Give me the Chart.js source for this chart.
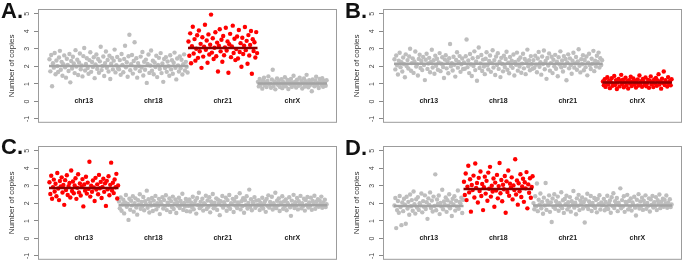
<!DOCTYPE html>
<html>
<head>
<meta charset="utf-8">
<script src="https://cdn.jsdelivr.net/npm/chart.js@4.4.0/dist/chart.umd.min.js"></script>
<style>
body { margin: 0; width: 685px; height: 266px; background: #fff; position: relative; overflow: hidden; font-family: "Liberation Sans", Arial, sans-serif; }
.panel { position: absolute; width: 342px; height: 131px; }
.tag { position: absolute; font-weight: bold; font-size: 22px; color: #111; line-height: 1; }
</style>
</head>
<body>
<div class="panel" style="left:0;top:0"><canvas id="chartA" width="342" height="131"></canvas></div>
<div class="panel" style="left:345px;top:0"><canvas id="chartB" width="342" height="131"></canvas></div>
<div class="panel" style="left:0;top:137px"><canvas id="chartC" width="342" height="131"></canvas></div>
<div class="panel" style="left:345px;top:137px"><canvas id="chartD" width="342" height="131"></canvas></div>
<div class="tag" style="left:1px;top:0">A.</div>
<div class="tag" style="left:345px;top:0">B.</div>
<div class="tag" style="left:1px;top:136px">C.</div>
<div class="tag" style="left:345px;top:137px">D.</div>
<script>
const chromosomes = ['chr13', 'chr18', 'chr21', 'chrX'];
const yTicks = [-1, 0, 1, 2, 3, 4, 5];

// panel A - trisomy 21
const a13 = [2.41,1.72,2.65,0.87,2.18,1.93,2.77,1.55,2.34,2.02,1.68,2.51,2.89,1.81,2.26,1.47,2.12,2.63,1.95,1.36,2.44,2.08,1.74,2.71,1.09,2.31,1.88,2.55,2.17,1.62,2.93,1.99,2.38,1.51,2.22,2.74,1.84,2.05,1.43,2.59,3.05,1.77,2.14,2.47,1.91,1.58,2.36,2.81,1.69,2.25,1.97,2.52,1.33,2.11,2.68,1.86,2.42,1.64,2.29,3.12,1.79,2.03,2.57,1.45,2.19,2.85,1.92,2.37,1.71,2.61,1.28,2.15,2.49,1.83,2.33,2.96,1.66,2.07,2.54,1.89];
const a18 = [1.84,2.36,1.52,2.71,2.09,1.67,2.43,3.18,1.95,2.24,1.41,2.58,3.81,1.78,2.12,2.65,1.59,2.31,3.38,1.88,2.47,1.36,2.19,2.02,1.73,2.56,1.94,2.82,1.48,2.27,1.81,2.39,1.06,2.14,2.68,1.63,2.05,2.91,1.75,2.33,1.55,2.22,1.97,2.61,1.39,2.08,2.49,1.86,2.76,1.62,2.17,1.12,2.42,1.91,2.53,1.69,2.28,2.01,1.47,2.64,1.83,2.35,1.58,2.21,2.79,1.92,1.26,2.45,2.06,1.71,2.57,1.89,2.38,1.54,2.13,2.69,1.77,2.26,1.98,1.65];
const a21 = [3.42,2.61,3.89,2.18,3.15,4.27,2.74,3.56,2.33,3.01,3.78,2.49,4.05,2.87,3.29,1.92,3.67,2.56,3.12,4.38,2.95,3.48,2.21,3.83,2.68,3.24,4.96,2.79,3.61,2.42,3.07,3.95,2.58,3.36,1.71,3.18,4.12,2.86,3.52,2.27,3.74,2.64,3.09,4.21,2.91,3.43,1.64,3.27,3.86,2.53,3.14,4.33,2.77,3.58,2.36,2.99,3.71,2.45,4.08,2.82,3.33,1.98,3.64,2.71,3.19,4.25,2.93,3.46,2.15,3.79,2.62,3.23,4.02,1.58,3.55,2.88,3.38,2.51,3.96,2.76];
const aX = [1.12,0.86,1.28,0.94,1.05,0.73,1.21,1.36,0.91,1.09,0.82,1.17,1.43,0.97,1.02,0.78,1.25,1.81,0.88,1.14,0.69,1.07,1.32,0.95,1.19,0.84,1.01,1.27,0.76,1.11,0.93,1.38,0.87,1.04,1.23,0.71,1.16,0.98,1.29,0.83,1.08,1.47,0.92,1.13,0.79,1.24,1.03,0.89,1.35,0.96,1.18,0.74,1.06,1.31,0.85,1.15,1.52,0.99,0.81,1.22,0.94,1.09,0.58,1.26,1.01,0.87,1.19,1.41,0.92,1.05,0.77,1.28,1.12,0.95,1.33,0.84,1.17,1.02,0.9,1.21];
const aRed = [false, false, true, false];
const aMeans = [[0, 1, 2.02], [2, 2, 3.05], [3, 3, 1.02]];

// panel B - monosomy X
const b13 = [2.41,1.83,2.62,2.07,1.54,2.33,2.78,1.96,2.24,1.71,2.51,2.13,1.38,2.69,2.02,2.36,1.88,2.57,3.01,1.75,2.19,2.46,1.63,2.28,2.85,1.99,2.11,1.48,2.43,2.67,1.91,2.31,1.79,2.54,2.08,1.22,2.38,2.72,1.86,2.17,2.49,1.67,2.26,2.95,1.94,2.35,1.58,2.61,2.04,2.44,1.81,2.22,2.76,1.73,2.15,2.52,1.97,1.34,2.39,2.64,1.89,2.29,1.61,2.47,3.28,2.01,2.18,1.77,2.55,2.09,1.42,2.37,2.81,1.93,2.25,2.59,1.69,2.12,2.45,1.85];
const b18 = [2.23,1.87,2.58,3.54,1.96,2.34,1.62,2.71,2.11,1.45,2.47,2.02,2.86,1.79,2.29,1.18,2.53,3.08,1.91,2.17,2.65,1.74,2.39,1.99,1.56,2.44,2.81,2.06,1.83,2.31,2.62,1.69,2.19,2.92,1.94,2.36,1.51,2.57,2.08,2.75,1.86,2.27,1.39,2.49,2.14,1.72,2.61,1.97,2.42,2.84,1.81,2.21,1.61,2.54,2.03,2.33,1.92,2.68,1.48,2.25,2.09,2.79,1.76,2.38,1.99,2.51,1.64,2.16,2.72,1.89,2.43,1.56,2.28,2.96,2.01,2.35,1.78,2.59,2.12,1.87];
const b21 = [2.36,1.92,2.61,2.09,1.67,2.45,2.83,1.98,2.24,1.53,2.57,2.14,2.91,1.84,2.31,1.29,2.48,2.05,2.74,1.76,2.19,2.55,1.62,2.38,2.01,2.66,1.87,2.27,1.44,2.52,2.11,2.86,1.95,2.34,1.71,2.59,2.03,2.42,1.21,2.22,2.69,1.89,2.46,2.07,1.58,2.33,2.78,1.93,2.17,2.54,1.81,2.29,2.98,2.04,1.66,2.41,2.13,2.64,1.78,2.37,1.96,2.57,1.49,2.21,2.72,2.06,1.85,2.44,2.15,2.89,1.73,2.32,1.99,2.61,2.26,2.79,1.94,2.47,2.08,2.35];
const bX = [1.14,0.92,1.27,0.83,1.06,1.38,0.97,1.19,0.76,1.11,1.33,0.89,1.02,1.46,0.94,1.22,0.71,1.08,1.29,0.86,1.17,1.52,0.99,1.24,0.81,1.09,1.35,0.93,1.16,0.74,1.21,1.04,1.41,0.88,1.13,1.31,0.96,1.19,0.79,1.07,1.26,0.91,1.48,1.01,1.15,0.84,1.28,1.12,0.95,1.37,0.87,1.05,1.23,0.78,1.18,1.43,0.98,1.1,0.82,1.25,1.03,1.34,0.9,1.2,1.56,0.97,1.14,0.73,1.3,1.06,1.71,0.94,1.22,1.09,0.85,1.39,1.01,1.17,0.92,1.27];
const bRed = [false, false, false, true];
const bMeans = [[0, 2, 2.15], [3, 3, 1.08]];

// panel C - trisomy 13
const c13 = [3.21,2.54,3.58,2.27,2.93,3.36,2.68,3.12,2.41,3.74,2.85,2.19,3.28,2.97,3.49,2.62,3.05,1.92,3.33,2.76,3.61,2.48,2.99,3.17,2.34,3.88,2.71,3.25,2.58,3.02,3.44,2.26,2.89,3.67,2.63,3.14,2.45,2.95,3.39,1.83,3.08,2.73,3.52,2.56,3.19,2.83,4.38,2.39,3.01,2.67,3.31,2.91,2.14,3.46,2.79,3.09,2.52,3.63,2.87,3.23,2.31,2.94,3.41,2.66,3.15,1.86,3.29,2.81,3.55,2.47,3.06,4.33,2.74,3.18,2.59,3.37,2.92,3.69,2.28,3.03];
const c18 = [2.11,1.72,2.34,1.58,1.95,2.21,1.43,2.06,2.48,1.81,1.99,1.06,2.27,1.64,2.15,1.89,2.41,1.53,2.02,2.29,1.77,1.36,2.18,1.93,2.52,1.69,2.08,1.84,2.37,1.61,2.13,1.97,2.73,1.75,2.24,1.48,2.05,1.88,2.31,1.57,2.16,1.91,2.43,1.66,2.01,1.83,2.26,1.39,2.09,1.96,2.35,1.71,2.19,1.86,2.47,1.62,2.04,1.92,2.28,1.51,2.12,1.79,2.39,1.68,1.98,2.22,1.45,2.07,1.87,2.32,1.74,2.14,1.94,2.55,1.63,2.03,1.82,2.25,1.56,2.1];
const c21 = [1.86,2.23,1.54,2.06,1.79,2.38,1.67,1.97,2.15,1.42,2.31,1.91,2.61,1.73,2.09,1.84,2.27,1.59,2.02,1.95,2.44,1.68,2.17,1.81,2.35,1.49,2.11,1.93,2.54,1.72,2.04,1.87,2.29,1.63,2.21,1.98,1.33,2.13,1.89,2.42,1.76,2.07,1.92,2.33,1.58,2.19,1.83,2.48,1.69,2.01,1.96,2.26,1.51,2.14,1.88,2.37,1.74,2.05,1.94,2.58,1.66,2.12,1.85,2.3,1.47,2.18,1.9,2.41,1.71,2.03,2.79,1.8,2.24,1.61,2.08,1.97,2.36,1.75,2.16,1.88];
const cX = [1.91,2.18,1.62,2.04,1.83,2.32,1.71,1.98,2.13,1.52,2.26,1.87,2.46,1.76,2.08,1.94,2.38,1.65,2.01,1.86,2.61,1.73,2.15,1.89,2.29,1.57,2.06,1.96,2.41,1.69,2.11,1.84,2.22,1.61,2.03,1.93,2.35,1.78,1.29,2.16,1.91,2.49,1.74,2.07,1.88,2.31,1.66,2.12,1.95,2.43,1.72,2.02,1.85,2.27,1.59,2.19,1.92,2.37,1.77,2.05,1.87,2.33,1.64,2.14,1.97,2.44,1.7,2.09,1.9,2.24,1.81,2.17,1.98,2.39,1.75,2.06,1.86,2.21,1.79,1.95];
const cRed = [true, false, false, false];
const cMeans = [[0, 0, 2.88], [1, 3, 1.9]];

// panel D - trisomy 18
const d13 = [1.88,2.31,0.59,1.62,2.14,1.47,2.42,1.79,0.76,2.05,1.56,2.27,1.93,0.84,2.38,1.71,2.09,1.35,2.51,1.84,2.19,1.58,2.68,1.95,1.42,2.24,1.77,2.36,1.63,2.01,1.89,2.57,1.49,2.13,1.81,2.46,1.68,2.07,1.12,2.29,1.92,2.63,1.74,2.16,1.54,2.39,1.86,3.66,1.61,2.22,1.97,2.45,1.39,2.03,1.83,2.78,1.67,2.11,1.91,2.34,1.52,2.18,1.87,2.52,1.72,2.06,1.28,2.26,1.94,2.41,1.59,2.15,1.82,2.74,1.69,2.08,1.99,2.32,1.45,2.2];
const d18 = [3.24,2.48,3.71,2.19,2.96,4.15,2.63,3.38,1.53,3.05,2.77,3.59,2.34,4.28,2.89,3.17,2.05,3.46,2.71,3.82,2.42,3.11,1.62,2.93,3.53,2.56,3.29,2.15,3.76,2.84,4.09,2.39,3.01,2.68,3.42,1.81,3.19,2.74,3.63,2.29,2.99,4.31,2.58,3.34,2.12,3.07,2.81,3.57,1.47,3.26,2.65,3.88,2.44,3.13,2.91,3.49,2.23,3.03,2.76,4.52,2.51,3.31,1.93,3.15,2.69,3.67,2.37,2.97,3.41,2.09,3.21,2.86,3.79,1.72,3.09,2.61,3.44,2.32,2.94,3.55];
const d21 = [2.02,1.67,2.41,1.83,3.14,1.56,2.21,1.94,2.57,1.72,2.09,1.41,2.33,1.88,3.17,1.63,2.15,1.97,2.46,1.52,2.06,0.94,2.28,1.79,2.52,1.69,2.12,1.91,2.39,1.58,2.01,1.85,2.64,1.73,2.18,1.46,2.25,1.95,2.44,1.66,2.07,1.81,2.36,1.53,2.13,1.92,2.71,1.76,2.04,1.38,2.29,1.87,2.49,1.62,2.16,1.98,2.34,1.71,2.08,0.91,2.23,1.84,2.55,1.68,2.11,1.93,2.42,1.57,2.03,1.86,2.31,1.74,2.19,1.49,2.27,1.96,2.47,1.65,2.05,1.89];
const dX = [1.93,2.26,1.61,2.08,1.79,2.44,1.68,2.01,2.17,1.47,2.35,1.86,2.58,1.74,2.12,1.95,2.31,1.56,2.04,1.89,2.86,1.72,2.19,1.83,2.41,1.52,2.09,1.97,2.49,1.66,2.14,1.81,2.28,1.59,2.06,1.92,2.38,1.76,1.31,2.21,1.88,2.53,1.71,2.11,1.85,2.33,1.63,2.15,1.96,2.46,1.69,2.03,1.87,2.29,1.54,2.23,1.91,2.42,1.77,2.07,1.84,2.36,1.62,2.18,1.99,2.51,1.73,2.1,1.9,2.27,1.81,2.2,1.98,2.45,1.75,2.05,1.86,2.24,1.79,1.94];
const dRed = [false, true, false, false];
const dMeans = [[0, 0, 1.86], [1, 1, 2.82], [2, 3, 1.88]];

const SLOTS = 80; // x units per chromosome block
const grayPt = '#bebebe';
const redPt = '#ff0000';
const grayLine = '#a3a3a3';
const redLine = '#8b0000';

// box round the plot + chromosome names on the zero line
const framePlugin = {
    id: 'frame',
    afterDatasetsDraw(chart) {
        const ctx = chart.ctx;
        const area = chart.chartArea;
        const xs = chart.scales.x;
        const ys = chart.scales.y;
        ctx.save();
        ctx.strokeStyle = '#9c9c9c';
        ctx.lineWidth = 1;
        ctx.strokeRect(area.left + 0.5, area.top + 0.5, area.right - area.left - 1, area.bottom - area.top - 1);
        ctx.fillStyle = '#222';
        ctx.font = 'bold 7px "Liberation Sans", Arial, sans-serif';
        ctx.textAlign = 'center';
        ctx.textBaseline = 'middle';
        chromosomes.forEach(function (name, k) {
            ctx.fillText(name, xs.getPixelForValue(k * SLOTS + SLOTS / 2), ys.getPixelForValue(0));
        });
        ctx.restore();
    }
};

function makeChart(id, segments, red, means) {
    var grayPts = [];
    var redPts = [];
    segments.forEach(function (vals, k) {
        vals.forEach(function (v, i) {
            var p = { x: k * SLOTS + (i + 0.5) * SLOTS / vals.length, y: v };
            (red[k] ? redPts : grayPts).push(p);
        });
    });

    var datasets = means.map(function (m) {
        return {
            data: [{ x: m[0] * SLOTS, y: m[2] }, { x: (m[1] + 1) * SLOTS, y: m[2] }],
            showLine: true,
            borderColor: red[m[0]] ? redLine : grayLine,
            borderWidth: 2.5,
            pointRadius: 0
        };
    });
    datasets.push({ data: redPts, backgroundColor: redPt, pointRadius: 2.2, borderWidth: 0 });
    datasets.push({ data: grayPts, backgroundColor: grayPt, pointRadius: 2.2, borderWidth: 0 });

    new Chart(document.getElementById(id), {
        type: 'scatter',
        data: { datasets: datasets },
        plugins: [framePlugin],
        options: {
            responsive: false,
            animation: false,
            layout: { autoPadding: false, padding: { top: 9, right: 5, bottom: 5, left: 0 } },
            plugins: { legend: { display: false }, tooltip: { enabled: false } },
            scales: {
                x: { type: 'linear', display: false, min: -12.7, max: 331.5 },
                y: {
                    min: -1.22,
                    max: 5.28,
                    afterFit: function (scale) { scale.width = 38; },
                    afterBuildTicks: function (scale) {
                        scale.ticks = yTicks.map(function (v) { return { value: v }; });
                    },
                    ticks: {
                        minRotation: 90,
                        maxRotation: 90,
                        crossAlign: 'center',
                        padding: 4,
                        color: '#444',
                        font: { size: 7, family: '"Liberation Sans", Arial, sans-serif' }
                    },
                    grid: { drawOnChartArea: false, tickLength: 4, color: '#888' },
                    border: { display: false },
                    title: {
                        display: true,
                        text: 'Number of copies',
                        color: '#333',
                        padding: { top: 7, bottom: 0 },
                        font: { size: 8, family: '"Liberation Sans", Arial, sans-serif' }
                    }
                }
            }
        }
    });
}

makeChart('chartA', [a13, a18, a21, aX], aRed, aMeans);
makeChart('chartB', [b13, b18, b21, bX], bRed, bMeans);
makeChart('chartC', [c13, c18, c21, cX], cRed, cMeans);
makeChart('chartD', [d13, d18, d21, dX], dRed, dMeans);
</script>
</body>
</html>
